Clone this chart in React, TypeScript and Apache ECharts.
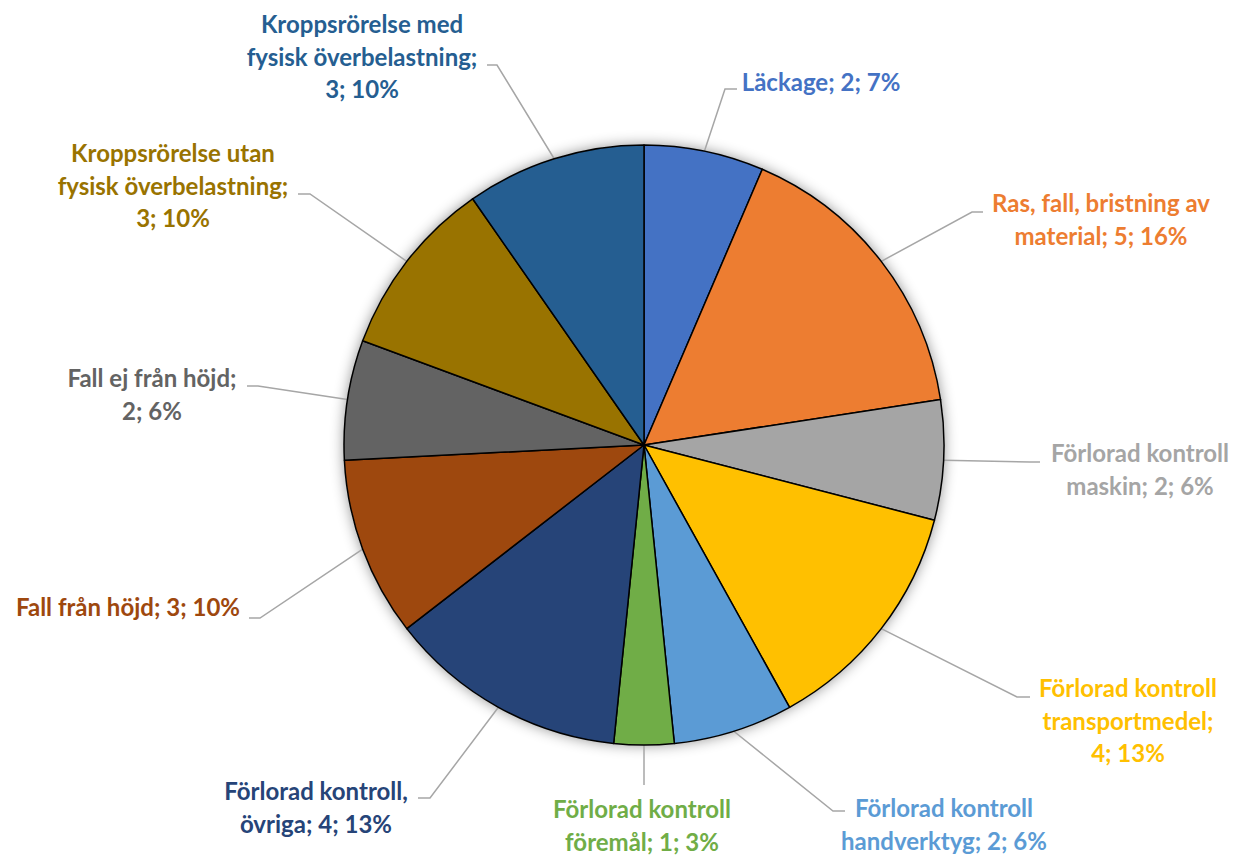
import React, { useEffect, useRef } from 'react';
import * as echarts from 'echarts';

const categories = [
  'Läckage',
  'Ras, fall, bristning av material',
  'Förlorad kontroll maskin',
  'Förlorad kontroll transportmedel',
  'Förlorad kontroll handverktyg',
  'Förlorad kontroll föremål',
  'Förlorad kontroll, övriga',
  'Fall från höjd',
  'Fall ej från höjd',
  'Kroppsrörelse utan fysisk överbelastning',
  'Kroppsrörelse med fysisk överbelastning',
];
const values = [2, 5, 2, 4, 2, 1, 4, 3, 2, 3, 3];
const percents = [7, 16, 6, 13, 6, 3, 13, 10, 6, 10, 10];

const colors = ['#4472C4', '#ED7D31', '#A5A5A5', '#FFC000', '#5B9BD5', '#70AD47', '#264478', '#9E480E', '#636363', '#997300', '#255E91'];

// words after which the label text wraps
const breaksAfter: string[][] = [
  [], ['av'], ['kontroll'], ['kontroll', 'transportmedel;'], ['kontroll'], ['kontroll'],
  ['kontroll,'], [], ['höjd;'], ['utan', 'överbelastning;'], ['med', 'överbelastning;'],
];

// label layout: [center x, first baseline y]
const labelAnchors: [number, number][] = [
  [821, 91], [1101, 212], [1140, 462], [1128, 697], [944, 817], [642, 818],
  [316, 800], [128, 616], [152, 387], [173, 162], [362, 33],
];
// leader line bend + end points
const leaderBends: [number, number][][] = [
  [[725, 89], [737, 89]],
  [[972, 212], [983, 212]],
  [[1030, 462], [1040, 462]],
  [[1017, 697], [1030, 697]],
  [[833, 811], [845, 811]],
  [[644, 785], [644, 785]],
  [[430, 798], [418, 798]],
  [[260, 618], [249, 618]],
  [[258, 386], [247, 386]],
  [[310, 194], [298, 194]],
  [[497, 65], [487, 65]],
];

const CX = 644;
const CY = 445;
const R = 300;
const FONT = 24;
const LH = 32.5;

function labelText(i: number): string {
  const words = `${categories[i]}; ${values[i]}; ${percents[i]}%`.split(' ');
  const lines: string[] = [];
  let cur: string[] = [];
  words.forEach((w) => {
    cur.push(w);
    if (breaksAfter[i].includes(w)) {
      lines.push(cur.join(' '));
      cur = [];
    }
  });
  if (cur.length) lines.push(cur.join(' '));
  return lines.join('\n');
}

export default function App() {
  const ref = useRef<HTMLDivElement>(null);
  useEffect(() => {
    if (!ref.current) return;
    const chart = echarts.init(ref.current, undefined, { renderer: 'svg' });
    const total = values.reduce((a, b) => a + b, 0);
    const midAngles: number[] = [];
    let cum = 0;
    values.forEach((v) => {
      midAngles.push(((90 - (360 * (cum + v / 2)) / total) * Math.PI) / 180);
      cum += v;
    });
    chart.setOption({
      animation: false,
      backgroundColor: '#ffffff',
      series: [
        {
          type: 'pie',
          center: [CX, CY],
          radius: R,
          silent: true,
          z: 1,
          data: [{ value: total, name: '' }],
          itemStyle: { color: '#ffffff', shadowBlur: 14, shadowColor: 'rgba(0,0,0,0.45)' },
          label: { show: false },
          labelLine: { show: false },
        },
        {
          type: 'pie',
          center: [CX, CY],
          radius: R,
          startAngle: 90,
          clockwise: true,
          z: 2,
          avoidLabelOverlap: false,
          data: categories.map((c, i) => ({
            name: c,
            value: values[i],
            itemStyle: { color: colors[i] },
            label: { color: colors[i] },
          })),
          itemStyle: { borderColor: '#000000', borderWidth: 1.5 },
          label: {
            show: true,
            position: 'outside',
            formatter: (p: any) => labelText(p.dataIndex),
            fontFamily: 'Lato',
            fontWeight: 'bold',
            fontSize: FONT,
            lineHeight: LH,
            align: 'center',
          },
          labelLine: { show: true, smooth: false, lineStyle: { color: '#A6A6A6', width: 1.5 } },
          labelLayout: (params: any) => {
            const i = params.dataIndex;
            const a = midAngles[i];
            const start = [CX + R * Math.cos(a), CY - R * Math.sin(a)];
            const [cx, base] = labelAnchors[i];
            return {
              x: cx,
              y: base - FONT * 0.387 - LH / 2,
              align: 'center',
              verticalAlign: 'top',
              labelLinePoints: [start, leaderBends[i][0], leaderBends[i][1]],
            };
          },
        },
      ],
    });
    return () => chart.dispose();
  }, []);
  return <div ref={ref} style={{ position: 'fixed', left: 0, top: 0, width: 1238, height: 856, background: '#fff' }} />;
}
